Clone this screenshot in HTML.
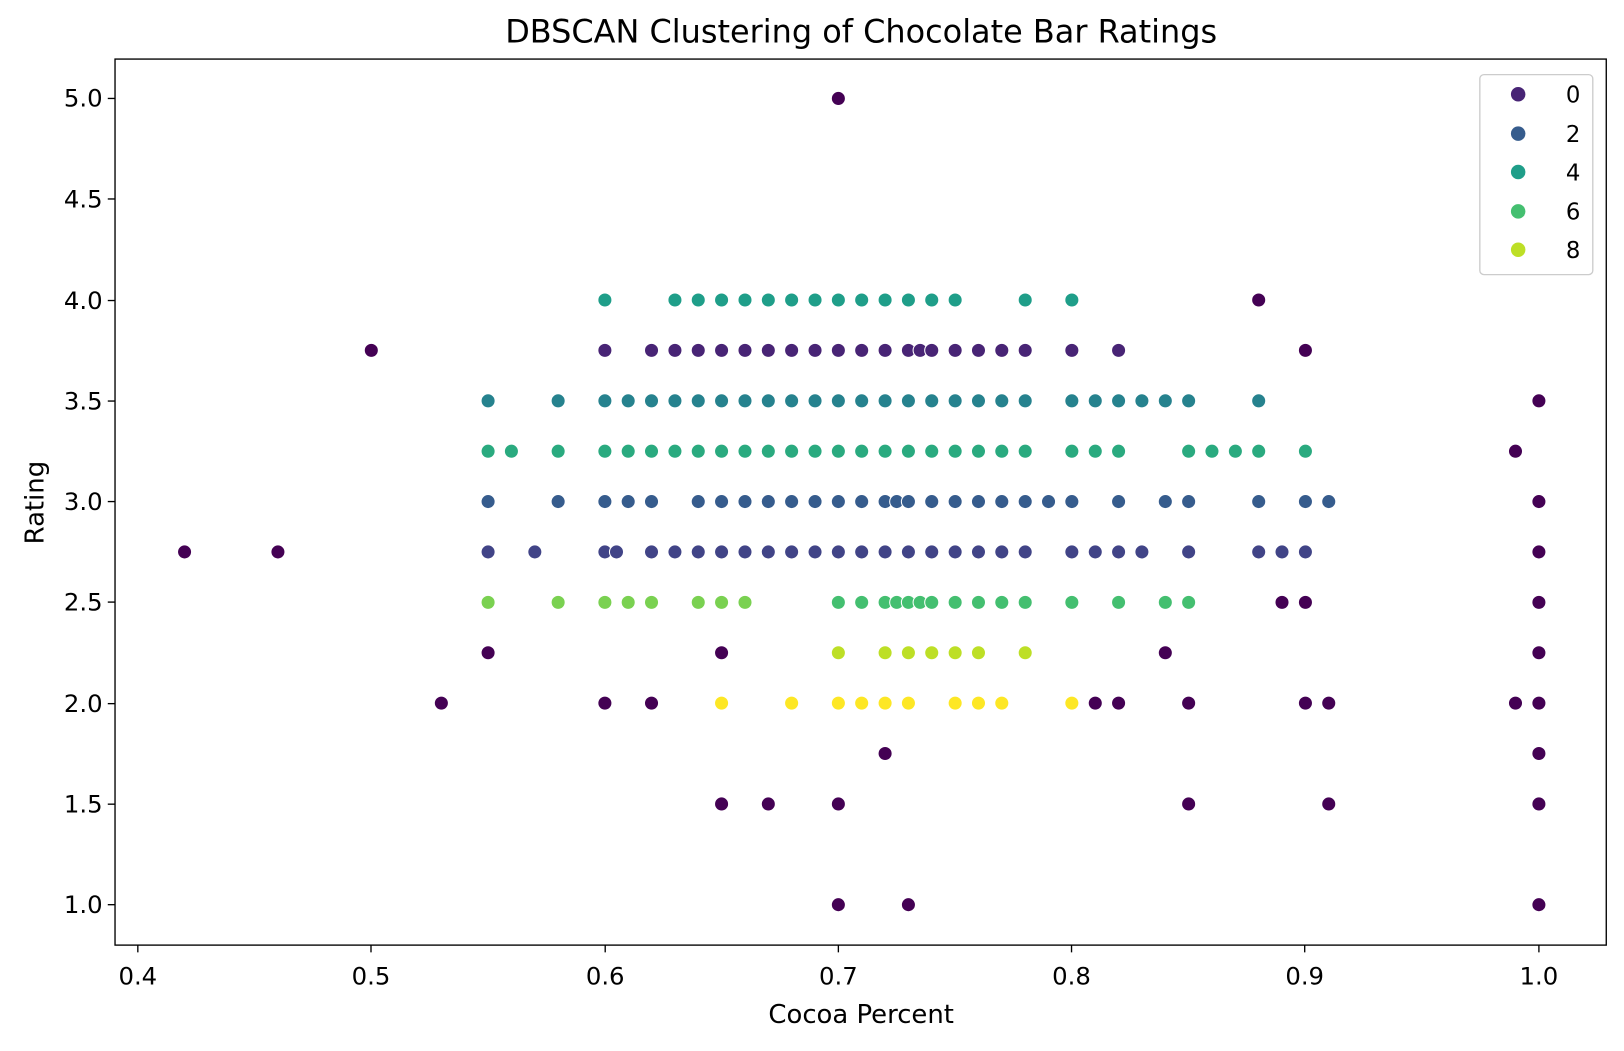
<!DOCTYPE html>
<html><head><meta charset="utf-8"><style>
body{margin:0;background:#fff;}
svg text{font-family:"DejaVu Sans","Liberation Sans",sans-serif;fill:#000;}
</style></head><body>
<svg id="s" width="1624" height="1046" viewBox="0 0 1624 1046" xmlns="http://www.w3.org/2000/svg">
<rect width="1624" height="1046" fill="#fff"/>
<g transform="scale(1.0363)">
<text x="831" y="41" font-size="30.8" text-anchor="middle">DBSCAN Clustering of Chocolate Bar Ratings</text>
<g id="pts"></g>
<rect x="111" y="57" width="1439" height="855" fill="none" stroke="#000" stroke-width="1.3"/>
<g font-size="23.5" text-anchor="middle">
<text x="133" y="950">0.4</text><text x="358" y="950">0.5</text><text x="584" y="950">0.6</text>
<text x="809" y="950">0.7</text><text x="1034" y="950">0.8</text><text x="1259" y="950">0.9</text><text x="1485" y="950">1.0</text>
</g>
<g stroke="#000" stroke-width="1.3">
<line x1="133" y1="912" x2="133" y2="919"/><line x1="358" y1="912" x2="358" y2="919"/><line x1="584" y1="912" x2="584" y2="919"/><line x1="809" y1="912" x2="809" y2="919"/><line x1="1034" y1="912" x2="1034" y2="919"/><line x1="1259" y1="912" x2="1259" y2="919"/><line x1="1485" y1="912" x2="1485" y2="919"/>
<line x1="104" y1="95" x2="111" y2="95"/><line x1="104" y1="192" x2="111" y2="192"/><line x1="104" y1="290" x2="111" y2="290"/><line x1="104" y1="387" x2="111" y2="387"/><line x1="104" y1="484" x2="111" y2="484"/><line x1="104" y1="581" x2="111" y2="581"/><line x1="104" y1="679" x2="111" y2="679"/><line x1="104" y1="776" x2="111" y2="776"/><line x1="104" y1="873" x2="111" y2="873"/>
</g>
<g font-size="23.5" text-anchor="end">
<text x="99" y="103">5.0</text><text x="99" y="200">4.5</text><text x="99" y="298">4.0</text><text x="99" y="395">3.5</text><text x="99" y="492">3.0</text><text x="99" y="589">2.5</text><text x="99" y="687">2.0</text><text x="99" y="784">1.5</text><text x="99" y="881">1.0</text>
</g>
<text x="831" y="987" font-size="25" text-anchor="middle">Cocoa Percent</text>
<text x="42" y="485" font-size="25" text-anchor="middle" transform="rotate(-90 42 485)">Rating</text>
<rect x="1428" y="72" width="109" height="193" rx="4" fill="#fff" fill-opacity="0.8" stroke="#ccc" stroke-width="1.3"/>
<g font-size="22">
<circle cx="1465" cy="91" r="7" fill="#482475"/><text x="1511" y="99">0</text>
<circle cx="1465" cy="129" r="7" fill="#365c8d"/><text x="1511" y="137">2</text>
<circle cx="1465" cy="166" r="7" fill="#1f9e89"/><text x="1511" y="174">4</text>
<circle cx="1465" cy="204" r="7" fill="#44bf70"/><text x="1511" y="212">6</text>
<circle cx="1465" cy="241" r="7" fill="#bddf26"/><text x="1511" y="249">8</text>
</g>
</g>
</svg>
<script>
var N='#440154';
var data=[
[N,5.0,[0.7]],[N,4.0,[0.88]],[N,3.75,[0.5,0.9]],[N,3.5,[1.0]],[N,3.25,[0.99]],[N,3.0,[1.0]],
[N,2.75,[0.42,0.46,1.0]],[N,2.5,[0.89,0.9,1.0]],[N,2.25,[0.55,0.65,0.84,1.0]],
[N,2.0,[0.53,0.6,0.62,0.81,0.82,0.85,0.9,0.91,0.99,1.0]],[N,1.75,[0.72,1.0]],
[N,1.5,[0.65,0.67,0.7,0.85,0.91,1.0]],[N,1.0,[0.7,0.73,1.0]],
['#1f9e89',4.0,[0.6,0.63,0.64,0.65,0.66,0.67,0.68,0.69,0.7,0.71,0.72,0.73,0.74,0.75,0.78,0.8]],
['#482475',3.75,[0.6,0.62,0.63,0.64,0.65,0.66,0.67,0.68,0.69,0.7,0.71,0.72,0.73,0.735,0.74,0.75,0.76,0.77,0.78,0.8,0.82]],
['#26828e',3.5,[0.55,0.58,0.6,0.61,0.62,0.63,0.64,0.65,0.66,0.67,0.68,0.69,0.7,0.71,0.72,0.73,0.74,0.75,0.76,0.77,0.78,0.8,0.81,0.82,0.83,0.84,0.85,0.88]],
['#2aaa7f',3.25,[0.55,0.56,0.58,0.6,0.61,0.62,0.63,0.64,0.65,0.66,0.67,0.68,0.69,0.7,0.71,0.72,0.73,0.74,0.75,0.76,0.77,0.78,0.8,0.81,0.82,0.85,0.86,0.87,0.88,0.9]],
['#365c8d',3.0,[0.55,0.58,0.6,0.61,0.62,0.64,0.65,0.66,0.67,0.68,0.69,0.7,0.71,0.72,0.725,0.73,0.74,0.75,0.76,0.77,0.78,0.79,0.8,0.82,0.84,0.85,0.88,0.9,0.91]],
['#414487',2.75,[0.55,0.57,0.6,0.605,0.62,0.63,0.64,0.65,0.66,0.67,0.68,0.69,0.7,0.71,0.72,0.73,0.74,0.75,0.76,0.77,0.78,0.8,0.81,0.82,0.83,0.85,0.88,0.89,0.9]],
['#7ad151',2.5,[0.55,0.58,0.6,0.61,0.62,0.64,0.65,0.66]],
['#44bf70',2.5,[0.7,0.71,0.72,0.725,0.73,0.735,0.74,0.75,0.76,0.77,0.78,0.8,0.82,0.84,0.85]],
['#bddf26',2.25,[0.7,0.72,0.73,0.74,0.75,0.76,0.78]],
['#fde725',2.0,[0.65,0.68,0.7,0.71,0.72,0.73,0.75,0.76,0.77,0.8]]
];
var g=document.getElementById('pts'),h='';
data.forEach(function(d){d[2].forEach(function(x){
var px=133+(x-0.4)*2253.3,py=95+(5-d[1])*194.5;
h+='<circle cx="'+px.toFixed(1)+'" cy="'+py.toFixed(1)+'" r="6.8" fill="'+d[0]+'" stroke="#fff" stroke-width="1"/>';});});
g.innerHTML=h;
</script>
</body></html>
